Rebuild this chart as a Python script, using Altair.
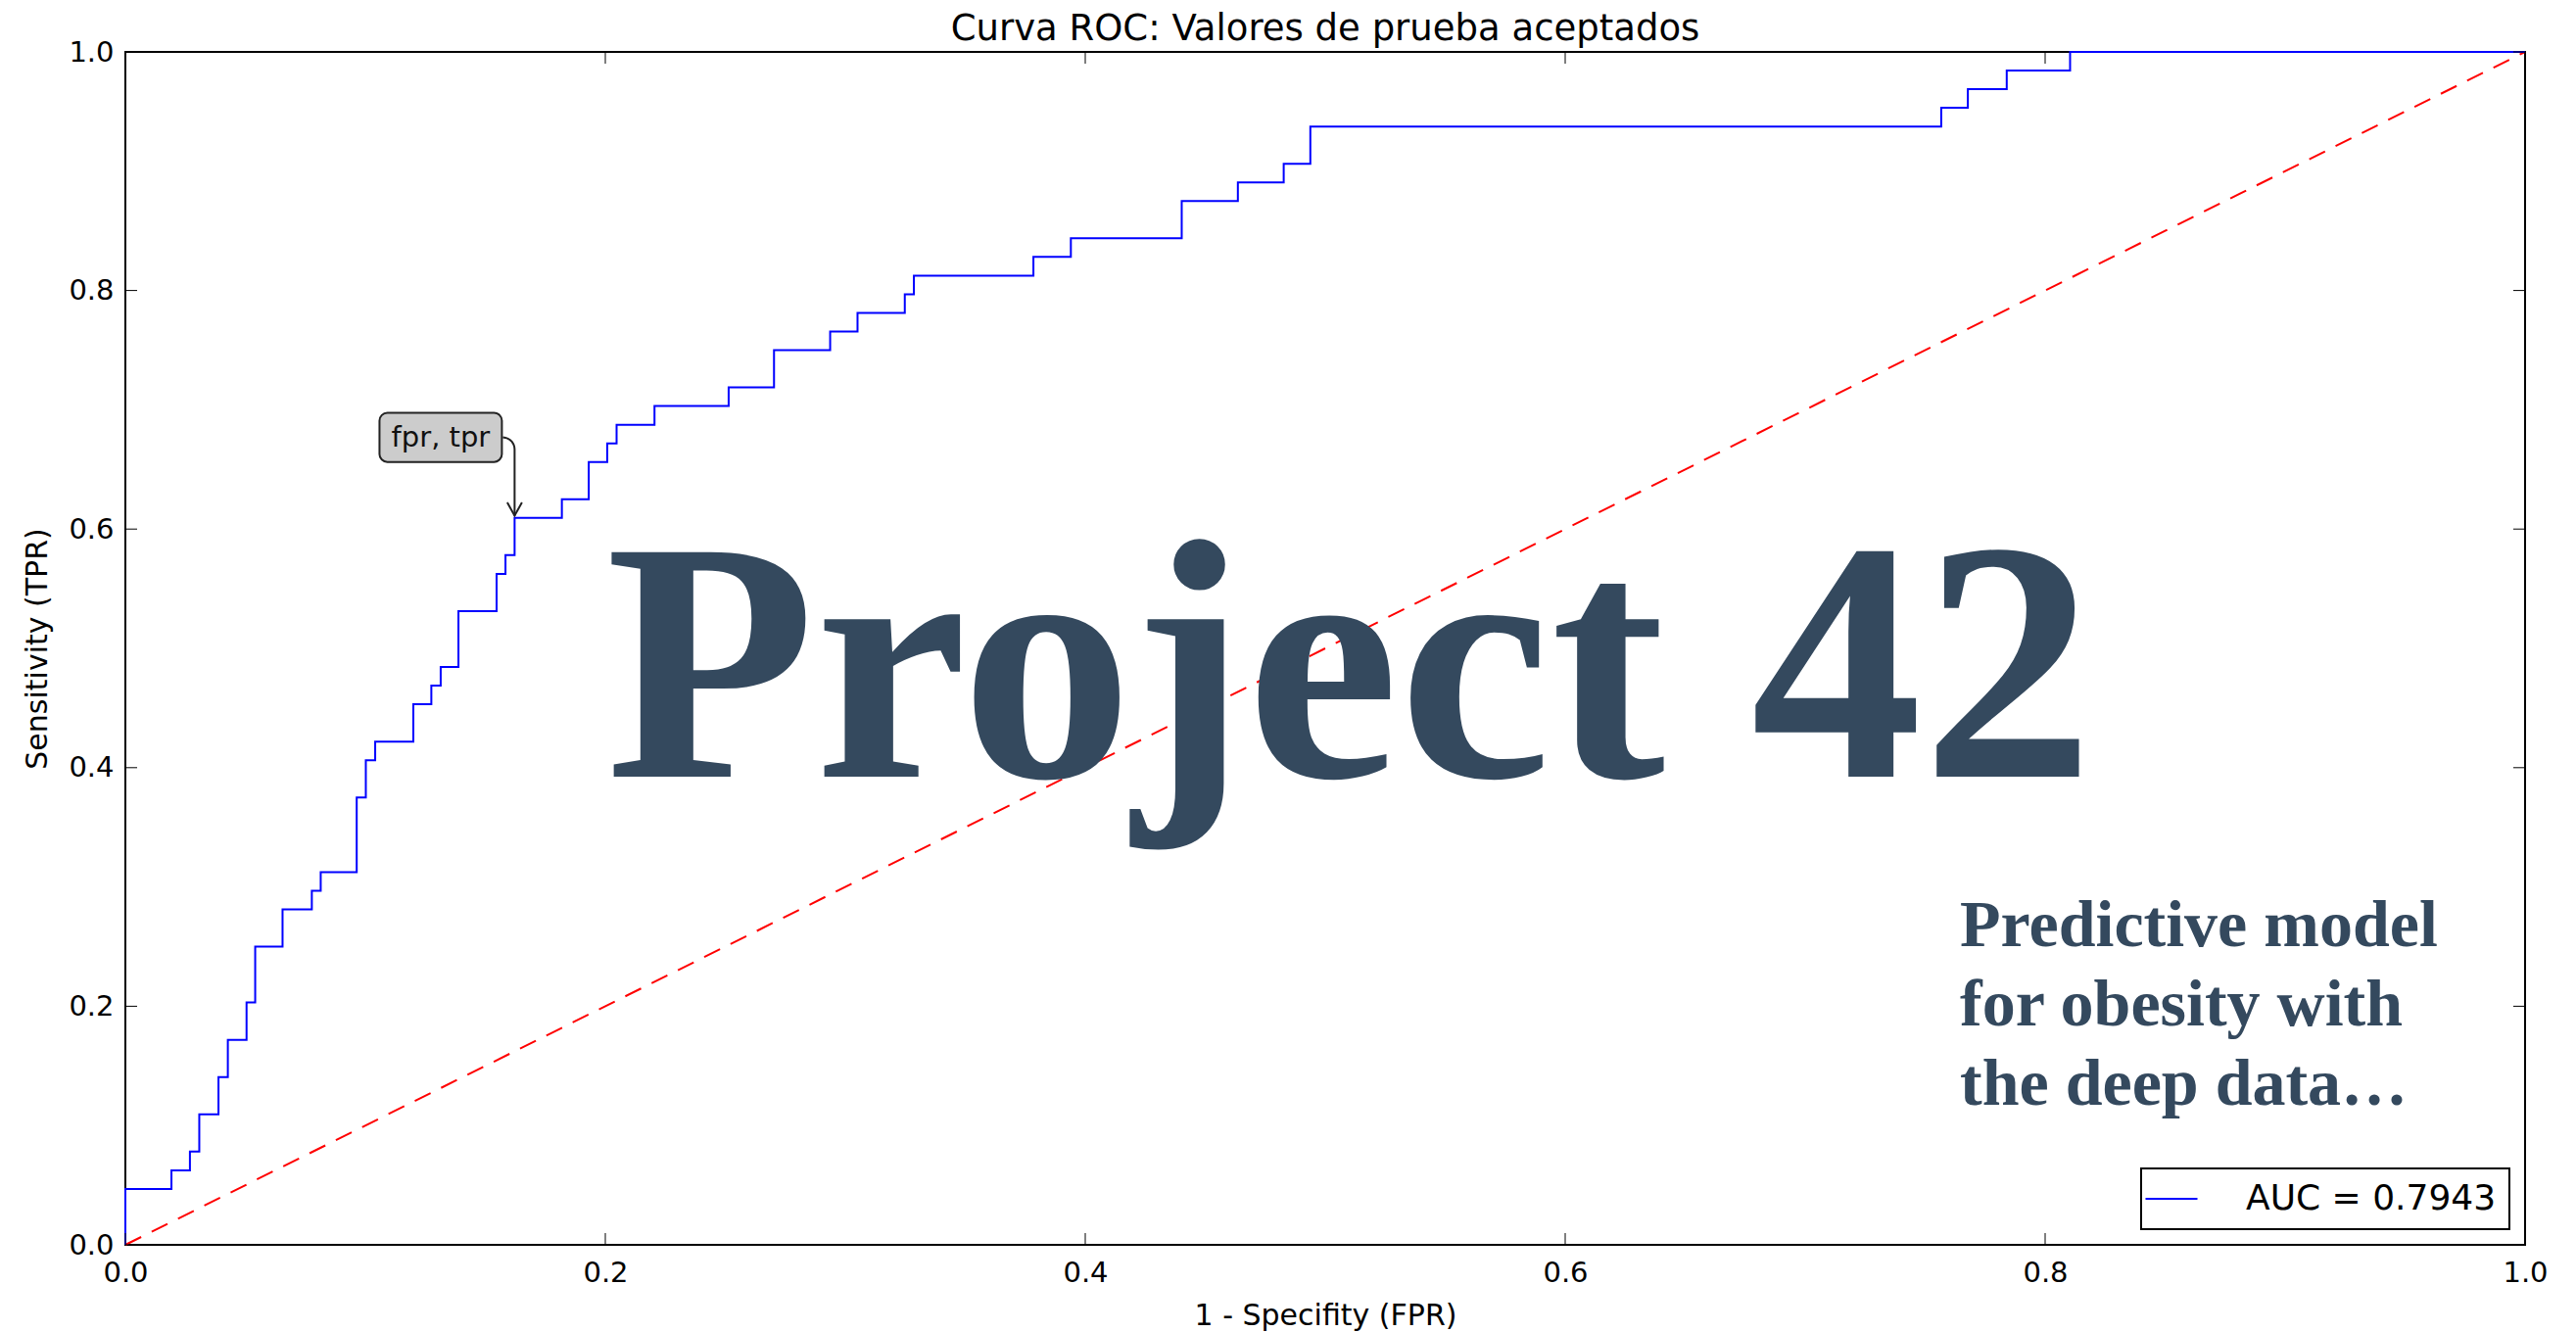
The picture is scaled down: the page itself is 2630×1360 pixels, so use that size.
import altair as alt
import numpy as np
import pandas as pd

# ROC operating points: each fpr is where the curve steps up to the tpr level
fpr = [0.0, 0.0, 0.0192, 0.0269, 0.0308, 0.0388, 0.0427, 0.0505, 0.0541, 0.0655,
       0.0777, 0.0814, 0.0964, 0.1002, 0.1041, 0.1200, 0.1275, 0.1314, 0.1388, 0.1547,
       0.1584, 0.1622, 0.1819, 0.1931, 0.2008, 0.2047, 0.2205, 0.2514, 0.2703, 0.2937,
       0.3051, 0.3248, 0.3286, 0.3784, 0.3940, 0.4402, 0.4636, 0.4827, 0.4938, 0.7567,
       0.7678, 0.7840, 0.8104, 1.0]
tpr = [0.0, 0.0469, 0.0625, 0.0781, 0.1094, 0.1406, 0.1719, 0.2031, 0.2500, 0.2813,
       0.2969, 0.3125, 0.3750, 0.4063, 0.4219, 0.4531, 0.4688, 0.4844, 0.5313, 0.5625,
       0.5781, 0.6094, 0.6250, 0.6563, 0.6719, 0.6875, 0.7031, 0.7188, 0.7500, 0.7656,
       0.7813, 0.7969, 0.8125, 0.8281, 0.8438, 0.8750, 0.8906, 0.9063, 0.9375, 0.9531,
       0.9688, 0.9844, 1.0, 1.0]
auc_value = 0.7943

tick_values = [0.0, 0.2, 0.4, 0.6, 0.8, 1.0]

title_text = "Curva ROC: Valores de prueba aceptados"
x_title = "1 - Specifity (FPR)"
y_title = "Sensitivity (TPR)"

annot_text = "fpr, tpr"
annot_index = 21

overlay_title = "Project 42"
overlay_lines = ["Predictive model", "for obesity with", "the deep data…"]

W, H = 2450, 1218
INK = "#34495e"
SANS = "DejaVu Sans"
SERIF = "Liberation Serif"

auc_label = f"AUC = {auc_value:.4f}"
roc = pd.DataFrame({"fpr": fpr, "tpr": tpr, "series": auc_label, "i": range(len(fpr))})
diag = pd.DataFrame({"fpr": [0.0, 1.0], "tpr": [0.0, 1.0]})

sx = alt.Scale(domain=[0, 1], nice=False, zero=False)
sy = alt.Scale(domain=[0, 1], nice=False, zero=False)

x_axis = alt.Axis(values=tick_values, format=".1f", title=x_title, labelFlush=False,
                  labelPadding=14, titleY=81, titleBaseline="alphabetic")
y_axis = alt.Axis(values=tick_values, format=".1f", title=y_title, labelFlush=False,
                  labelPadding=12, titleX=-81, titleY=H / 2, titleAngle=270,
                  titleAlign="center", titleBaseline="alphabetic")


def X(field):
    return alt.X(field, type="quantitative", scale=sx, axis=x_axis)


def Y(field):
    return alt.Y(field, type="quantitative", scale=sy, axis=y_axis)


# Diagonal chance line
diag_line = alt.Chart(diag).mark_line(color="#ff0000", strokeWidth=2, strokeDash=[18, 12]).encode(
    x=X("fpr"), y=Y("tpr"),
)

# ROC step curve with its legend entry (symbol path carries a little left margin)
roc_line = alt.Chart(roc).mark_line(strokeWidth=2, interpolate="step-after").encode(
    x=X("fpr"), y=Y("tpr"),
    order=alt.Order("i:Q"),
    color=alt.Color(
        "series:N",
        scale=alt.Scale(domain=[auc_label], range=["#0000ff"]),
        legend=alt.Legend(
            title=None, orient="bottom-right", offset=16,
            symbolType="M-4.55,0L-4.55,0M-2.65,0H2.65", symbolSize=400, symbolStrokeWidth=2,
            labelFont=SANS, labelFontSize=36, labelColor="black", labelOffset=58,
            labelLimit=0, padding=13, fillColor="white", strokeColor="black",
        ),
    ),
)

# Annotation box, label, connector and arrow head at the marked point
ax_, ay_ = fpr[annot_index], tpr[annot_index]
box = pd.DataFrame({
    "x0": [ax_ - 0.0563], "x1": [ax_ - 0.0053],
    "y0": [ay_ + 0.0469], "y1": [ay_ + 0.0880],
})
box_mid_y = (box.y0[0] + box.y1[0]) / 2
box_rect = alt.Chart(box).mark_rect(fill="#cccccc", stroke="#222222", strokeWidth=2, cornerRadius=8).encode(
    x=X("x0"), x2="x1:Q", y=Y("y0"), y2="y1:Q",
)
box_label = alt.Chart(pd.DataFrame({
    "x": [(box.x0[0] + box.x1[0]) / 2], "y": [box_mid_y], "t": [annot_text]
})).mark_text(font=SANS, fontSize=29, color="#111111", baseline="middle", align="center").encode(
    x=X("x"), y=Y("y"), text="t:N",
)

rx, ry = 12 / W, 12 / H
theta = np.linspace(np.pi / 2, 0, 8)
cx, cy = ax_ - rx, box_mid_y - ry
conn_x = list(cx + rx * np.cos(theta)) + [ax_]
conn_y = list(cy + ry * np.sin(theta)) + [ay_ + 2 / H]
connector = alt.Chart(pd.DataFrame({"x": conn_x, "y": conn_y, "i": range(len(conn_x))})).mark_line(
    color="#222222", strokeWidth=2
).encode(x=X("x"), y=Y("y"), order="i:Q")
head = alt.Chart(pd.DataFrame({"x": [ax_], "y": [ay_]})).mark_point(
    shape="M-1,-0.9L0,0.9L1,-0.9", filled=False, color="#222222", strokeWidth=2, size=225,
    yOffset=-9, opacity=1,
).encode(x=X("x"), y=Y("y"))

# Inward tick marks on all four sides of the frame
ticks = pd.DataFrame({"v": tick_values})
TL = 12
rule = dict(color="black", strokeWidth=1)
tick_layers = [
    alt.Chart(ticks).mark_rule(**rule).encode(x=X("v"), y=alt.value(H), y2=alt.value(H - TL)),
    alt.Chart(ticks).mark_rule(**rule).encode(x=X("v"), y=alt.value(0), y2=alt.value(TL)),
    alt.Chart(ticks).mark_rule(**rule).encode(y=Y("v"), x=alt.value(0), x2=alt.value(TL)),
    alt.Chart(ticks).mark_rule(**rule).encode(y=Y("v"), x=alt.value(W), x2=alt.value(W - TL)),
]

# Chart title above the frame
title_mark = alt.Chart(pd.DataFrame({"t": [title_text]})).mark_text(
    font=SANS, fontSize=37, color="black", align="center", baseline="alphabetic"
).encode(x=alt.value(W / 2), y=alt.value(-12), text="t:N")

# Headline text over the plot
headline = alt.Chart(pd.DataFrame({"t": [overlay_title]})).mark_text(
    font=SERIF, fontWeight="bold", fontSize=350, color=INK, align="center", baseline="alphabetic"
).encode(x=alt.value(1250), y=alt.value(740), text="t:N")

subtitle = alt.Chart(pd.DataFrame({"t": ["\n".join(overlay_lines)]})).mark_text(
    font=SERIF, fontWeight="bold", fontSize=68, color=INK, align="left", baseline="alphabetic",
    lineBreak="\n", lineHeight=81,
).encode(x=alt.value(1873), y=alt.value(913), text="t:N")

chart = alt.layer(
    diag_line, roc_line, headline, subtitle, box_rect, box_label, connector, head,
    *tick_layers, title_mark
).properties(
    width=W, height=H,
    autosize=alt.AutoSizeParams(type="none"),
    padding={"left": 128, "top": 53, "right": 52, "bottom": 89},
    background="white",
).configure_view(
    stroke="black", strokeWidth=2
).configure_axis(
    labelFont=SANS, labelFontSize=29, labelColor="black",
    titleFont=SANS, titleFontSize=30, titleFontWeight="normal", titleColor="black",
    domain=False, ticks=False, grid=False,
).configure_legend(strokeWidth=2)

chart.save("out.html", embed_options={"renderer": "svg", "actions": False})
